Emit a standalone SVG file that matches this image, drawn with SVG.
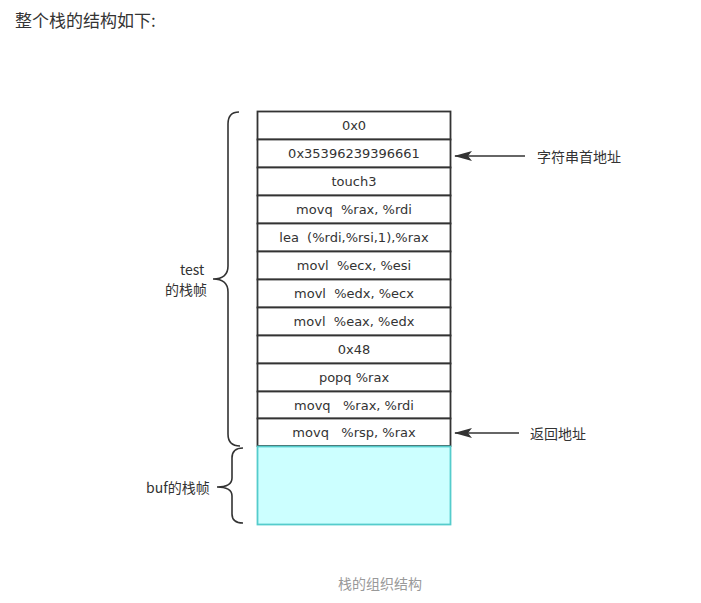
<svg xmlns="http://www.w3.org/2000/svg" width="701" height="603" viewBox="0 0 701 603">
<style>
.cell{fill:#ffffff;stroke:#333333;stroke-width:1.8}
.t{font-family:"DejaVu Sans","Noto Sans",sans-serif;font-size:13px;fill:#333333;text-anchor:middle}
.lbl{font-family:"Noto Sans CJK SC",sans-serif;font-size:14px;fill:#333333}
.brace{fill:none;stroke:#333333;stroke-width:1.6}
.arr{stroke:#333333;stroke-width:1.6}
</style>
<defs>
<marker id="ah" markerWidth="18" markerHeight="12" refX="17" refY="6" orient="auto" markerUnits="userSpaceOnUse">
<path d="M0,1 L18,6 L0,11 L4,6 Z" fill="#333333"/>
</marker>
</defs>
<rect width="701" height="603" fill="#ffffff"/>
<text x="15" y="27" font-family="'Noto Sans CJK SC',sans-serif" font-size="17" fill="#333333">整个栈的结构如下:</text>
<g id="stack">
<g id="r0"><rect class="cell" x="257.5" y="111.5" width="193" height="28"/><text class="t" x="354" y="130">0x0</text></g>
<g id="r1"><rect class="cell" x="257.5" y="139.5" width="193" height="28"/><text class="t" x="354" y="158">0x35396239396661</text></g>
<g id="r2"><rect class="cell" x="257.5" y="167.5" width="193" height="28"/><text class="t" x="354" y="186">touch3</text></g>
<g id="r3"><rect class="cell" x="257.5" y="195.5" width="193" height="28"/><text class="t" x="354" y="214" xml:space="preserve">movq  %rax, %rdi</text></g>
<g id="r4"><rect class="cell" x="257.5" y="223.5" width="193" height="28"/><text class="t" x="354" y="242" xml:space="preserve">lea  (%rdi,%rsi,1),%rax</text></g>
<g id="r5"><rect class="cell" x="257.5" y="251.5" width="193" height="28"/><text class="t" x="354" y="270" xml:space="preserve">movl  %ecx, %esi</text></g>
<g id="r6"><rect class="cell" x="257.5" y="279.5" width="193" height="28"/><text class="t" x="354" y="298" xml:space="preserve">movl  %edx, %ecx</text></g>
<g id="r7"><rect class="cell" x="257.5" y="307.5" width="193" height="28"/><text class="t" x="354" y="326" xml:space="preserve">movl  %eax, %edx</text></g>
<g id="r8"><rect class="cell" x="257.5" y="335.5" width="193" height="28"/><text class="t" x="354" y="354">0x48</text></g>
<g id="r9"><rect class="cell" x="257.5" y="363.5" width="193" height="28"/><text class="t" x="354" y="382">popq %rax</text></g>
<g id="r10"><rect class="cell" x="257.5" y="391.5" width="193" height="27"/><text class="t" x="354" y="410" xml:space="preserve">movq   %rax, %rdi</text></g>
<g id="r11"><rect class="cell" x="257.5" y="418.5" width="193" height="27.5"/><text class="t" x="354" y="437" xml:space="preserve">movq   %rsp, %rax</text></g>
<g id="buf"><rect x="257.5" y="446.5" width="193" height="78" fill="#ccffff" stroke="#55cccc" stroke-width="1.8"/></g>
</g>
<g id="braces">
<path class="brace" d="M239,112 Q228,112 228,124 L228,266 Q228,279 213,279 Q228,279 228,292 L228,434 Q228,446 240,446"/>
<path class="brace" d="M243,448 Q232,448 232,458 L232,478 Q232,487 217,487 Q232,487 232,496 L232,514 Q232,523 243,523"/>
</g>
<g id="labels">
<text class="lbl" x="180" y="275">test</text>
<text class="lbl" x="165" y="295">的栈帧</text>
<text class="lbl" x="146" y="493">buf的栈帧</text>
<text class="lbl" x="537" y="162">字符串首地址</text>
<text class="lbl" x="530" y="439">返回地址</text>
</g>
<g id="connectors">
<line class="arr" x1="525" y1="156" x2="455" y2="156" marker-end="url(#ah)"/>
<line class="arr" x1="519" y1="433" x2="455" y2="433" marker-end="url(#ah)"/>
</g>
<text x="380" y="589" font-family="'Noto Sans CJK SC',sans-serif" font-size="14" fill="#999999" text-anchor="middle">栈的组织结构</text>
</svg>
